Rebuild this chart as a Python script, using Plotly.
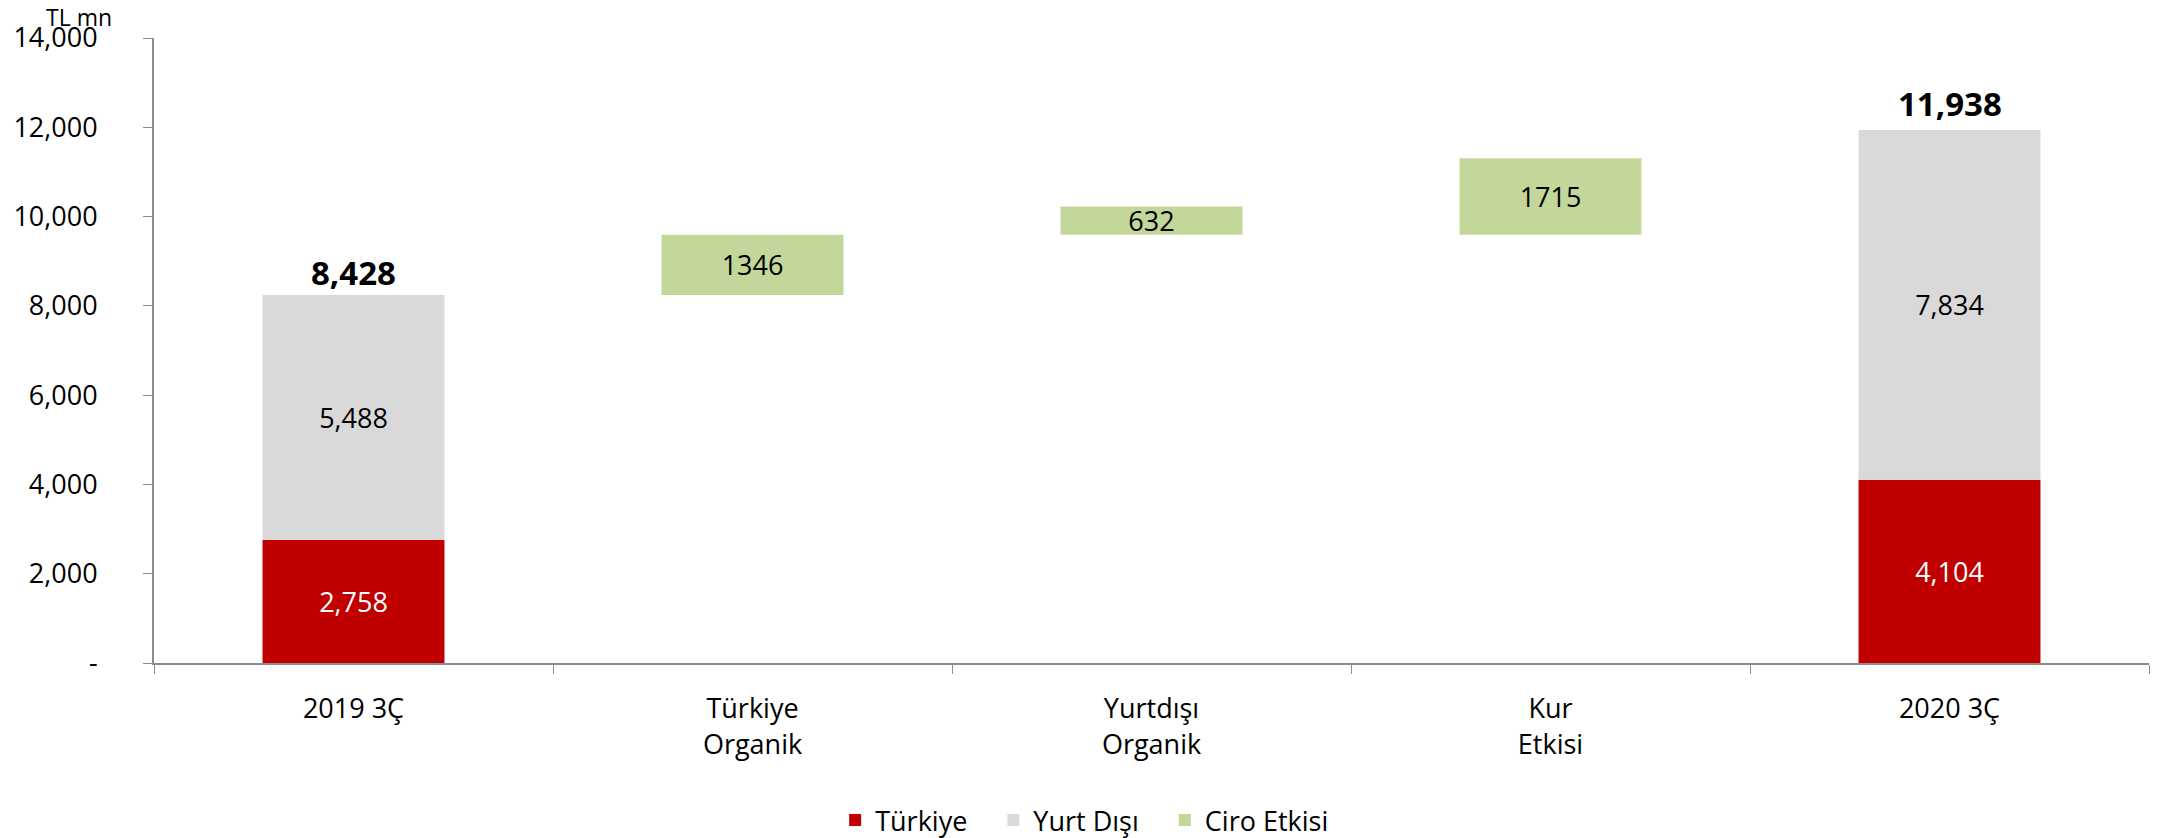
import plotly.graph_objects as go

categories = ["2019 3Ç", "Türkiye<br>Organik", "Yurtdışı<br>Organik", "Kur<br>Etkisi", "2020 3Ç"]

# Stacked end bars
turkiye = [2758, None, None, None, 4104]
yurt_disi = [5488, None, None, None, 7834]
total_labels = ["8,428", "", "", "", "11,938"]

# Floating "Ciro Etkisi" bars
ciro = [None, 1346, 632, 1715, None]
ciro_base = [None, 8246, 9592, 9592, None]

y_tickvals = [0, 2000, 4000, 6000, 8000, 10000, 12000, 14000]
y_ticktext = ["-", "2,000", "4,000", "6,000", "8,000", "10,000", "12,000", "14,000"]

RED = "#C00000"
GRAY = "#D9D9D9"
GREEN = "#C4D79B"
FONT = "Open Sans, sans-serif"
FS = 27
PAD = "\u00a0\u00a0\u00a0"

def fmt(v):
    return "" if v is None else f"{v:,}"

gray_base = list(turkiye)
totals_y = [(t + g) if (t is not None and g is not None) else None for t, g in zip(turkiye, yurt_disi)]

fig = go.Figure()
fig.add_trace(go.Bar(
    x=categories, y=turkiye, name="Türkiye" + PAD,
    marker=dict(color=RED, line=dict(width=0)),
    text=[fmt(v) for v in turkiye], textposition="inside", insidetextanchor="middle",
    constraintext="none",
    textfont=dict(color="white", size=FS, family=FONT), width=0.456,
))
fig.add_trace(go.Bar(
    x=categories, y=yurt_disi, base=gray_base, name="Yurt Dışı" + PAD,
    marker=dict(color=GRAY, line=dict(width=0)),
    text=[fmt(v) for v in yurt_disi], textposition="inside", insidetextanchor="middle",
    constraintext="none",
    textfont=dict(color="black", size=FS, family=FONT), width=0.456,
))
fig.add_trace(go.Bar(
    x=categories, y=ciro, base=ciro_base, name="Ciro Etkisi",
    marker=dict(color=GREEN, line=dict(width=0)),
    text=["" if v is None else str(v) for v in ciro], textposition="inside", insidetextanchor="middle",
    constraintext="none",
    textfont=dict(color="black", size=FS, family=FONT), width=0.456,
))

annotations = [dict(text="TL mn", xref="paper", yref="paper", x=-0.0376, y=1.0,
                    xanchor="center", yanchor="bottom", yshift=3, showarrow=False,
                    font=dict(size=23, family=FONT))]
label_shift = [22, 0, 0, 0, 27]
for cat, ty, lab, sh in zip(categories, totals_y, total_labels, label_shift):
    if ty is None:
        continue
    annotations.append(dict(x=cat, y=ty, text=f"<b>{lab}</b>", showarrow=False,
                            xanchor="center", yanchor="middle", yshift=sh,
                            font=dict(size=33, color="black", family=FONT)))

fig.update_layout(
    width=2152, height=830,
    barmode="overlay",
    plot_bgcolor="white", paper_bgcolor="white",
    margin=dict(l=146, r=11, t=30, b=175, autoexpand=False),
    font=dict(family=FONT, size=FS, color="black"),
    legend=dict(orientation="h", x=0.4665, xanchor="center", y=-0.252,
                yanchor="middle", font=dict(size=FS, family=FONT), traceorder="normal",
                itemwidth=30),
    annotations=annotations,
)
fig.update_xaxes(
    type="category", showline=True, linecolor="#8C8C8C", linewidth=2,
    ticks="outside", tickson="boundaries", ticklen=9, tickcolor="#8C8C8C", tickwidth=1,
    showgrid=False, tickfont=dict(size=FS, family=FONT), range=[-0.5, 4.5],
    ticklabelstandoff=21, automargin=False,
)
fig.update_yaxes(
    range=[0, 14000], tickvals=y_tickvals, ticktext=y_ticktext,
    showline=True, linecolor="#8C8C8C", linewidth=2,
    ticks="outside", ticklen=9, tickcolor="#8C8C8C", tickwidth=1,
    showgrid=False, zeroline=False, tickfont=dict(size=FS, family=FONT),
    ticklabelstandoff=40, automargin=False,
)

fig.write_html("out.html")
